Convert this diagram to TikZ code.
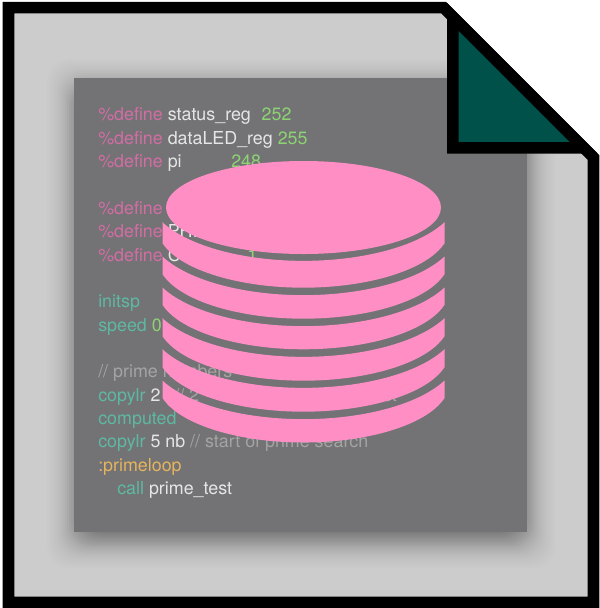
\documentclass[tikz,border=0pt]{standalone}
\usepackage{fontspec}
\setmainfont{TeX Gyre Heros}
\definecolor{pagegray}{HTML}{CCCCCC}
\definecolor{sheetgray}{HTML}{737375}
\definecolor{foldteal}{HTML}{00514A}
\definecolor{dbpink}{HTML}{FF8EC5}
\definecolor{codepink}{HTML}{D26DA4}
\definecolor{codeteal}{HTML}{5DB9A2}
\definecolor{codegreen}{HTML}{8DD373}
\definecolor{codewhite}{HTML}{E6E6E6}
\definecolor{codegray}{HTML}{A4A4A4}
\definecolor{codeorange}{HTML}{E6B45E}
\newcommand{\kwd}[1]{\textcolor{codepink}{#1}}
\newcommand{\ins}[1]{\textcolor{codeteal}{#1}}
\newcommand{\num}[1]{\textcolor{codegreen}{#1}}
\newcommand{\cmt}[1]{\textcolor{codegray}{#1}}

\begin{document}
\begin{tikzpicture}[
	% One unit is one pixel of the picture, y runs down
	x=0.025cm, y=-0.025cm,
	% Style for the lines of code
	code/.style={
		anchor=base west,
		inner sep=0pt,
		text=codewhite,
		font=\fontsize{12.7}{15}\selectfont
	},
	% Style for the folded page outline
	outline/.style={
		draw=black,
		line width=0.2875cm,
		miter limit=10
	},
	disc/.style={
		fill=dbpink
	}
	]
	\useasboundingbox (0,0) rectangle (600,608);
	
	% The page
	\fill[pagegray] (8.5,7.7) -- (443.7,7.7) -- (593.5,157.5) -- (593.5,602.3) -- (8.5,602.3) -- cycle;
	
	% Shadow and sheet stay inside the page
	\begin{scope}
		\clip (8.5,7.7) -- (443.7,7.7) -- (593.5,157.5) -- (593.5,602.3) -- (8.5,602.3) -- cycle;
		\foreach \r in {-18,-16,...,28}{
			\pgfmathsetmacro{\shade}{0.006+0.03*exp(-(\r/13)^2)}
			\fill[black, opacity=\shade, rounded corners=16pt] ({74+1-\r},{78+9-\r}) rectangle ({526.5+1+\r},{531.5+9+\r});
		}
		\fill[sheetgray] (74,78) rectangle (526.5,531.5);
	\end{scope}
	
	% The code, one node per line
	\node[code] (l1) at (98,120.7) {\kwd{\%define} status\_reg\hspace*{0.27cm}\num{252}};
	\node[code] (l2) at (98,144.1) {\kwd{\%define} dataLED\_reg \num{255}};
	\node[code] (l3) at (98,167.5) {\kwd{\%define} pi\hspace*{1.24cm}\num{248}};
	\node[code] (l5) at (98,214.2) {\kwd{\%define}};
	\node[code] (l6) at (98,237.6) {\kwd{\%define} PHI};
	\node[code] (l7) at (98,261) {\kwd{\%define} C\hspace*{1.67cm}\num{1}};
	\node[code] (l9) at (98,307.7) {\ins{initsp}};
	\node[code] (l10) at (98,331) {\ins{speed} \num{0}};
	\node[code] (l12) at (98,377.7) {\cmt{// prime numbers}};
	\node[code] (l13) at (98,401) {\ins{copylr} 2 i \cmt{// 2\hspace*{4.4cm}list}};
	\node[code] (l14) at (98,424.4) {\ins{computed}};
	\node[code] (l15) at (98,447.8) {\ins{copylr} 5 nb \cmt{// start of prime search}};
	\node[code] (l16) at (98,471.2) {\textcolor{codeorange}{:primeloop}};
	\node[code] (l17) at (117,494.5) {\ins{call} prime\_test};
	
	% The stack of discs, upper and lower edge of each at the middle
	\foreach \u/\l in {260.7/287.7, 295/318.7, 326/349.3, 356.7/380.7, 387.7/411.7, 419/442.5}{
		\fill[disc] (162.5,{\u-38.5}) -- (162.5,{\l-44.5})
			arc[start angle=165, end angle=15, x radius=146, y radius=60]
			-- (444.5,{\u-38.5})
			arc[start angle=24.5, end angle=155.5, x radius=155, y radius=66]
			-- cycle;
	}
	\fill[disc] (303.5,207.5) ellipse [x radius=137.5, y radius=46.5];
	
	% Page outline and folded corner
	\draw[outline] (8.5,7.7) -- (443.7,7.7) -- (593.5,157.5) -- (593.5,602.3) -- (8.5,602.3) -- cycle;
	\draw[outline, fill=foldteal] (452.8,16.8) -- (452.8,147.8) -- (583.8,147.8) -- cycle;
	
\end{tikzpicture}
\end{document}
